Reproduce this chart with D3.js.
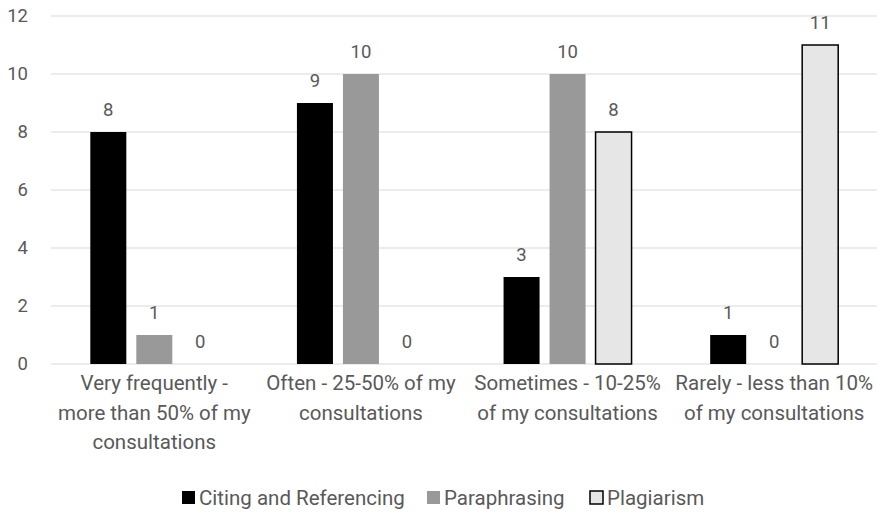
<!DOCTYPE html>
<html>
<head>
<meta charset="utf-8">
<script src="https://cdn.jsdelivr.net/npm/d3@7"></script>
<style>
  body { margin: 0; background: #fff; }
  text { font-family: "Roboto", sans-serif; fill: #595959; }
</style>
</head>
<body>
<div id="chart"></div>
<script>
var categories = [
    ["Very frequently -", "more than 50% of my", "consultations"],
    ["Often - 25-50% of my", "consultations"],
    ["Sometimes - 10-25%", "of my consultations"],
    ["Rarely - less than 10%", "of my consultations"]
];
var seriesNames = ["Citing and Referencing", "Paraphrasing", "Plagiarism"];
var citing = [8, 9, 3, 1];
var paraphrasing = [1, 10, 10, 0];
var plagiarism = [0, 0, 8, 11];
var yTicks = [0, 2, 4, 6, 8, 10, 12];

var fills = ["#000000", "#999999", "#e6e6e6"];
var strokes = ["none", "none", "#000000"];

var width = 877, height = 512;
var margin = { top: 16, left: 51, bottom: 148, right: 0 };

var svg = d3.select('#chart')
            .append('svg')
            .attr('width', width)
            .attr('height', height);

var x = d3.scaleBand()
          .domain(d3.range(categories.length))
          .range([margin.left, width - margin.right + 0.5]);

var y = d3.scaleLinear()
          .domain([0, 12])
          .range([height - margin.bottom, margin.top]);

// gridlines
svg.selectAll('.grid')
    .data(yTicks)
    .enter()
    .append('line')
    .attr('x1', margin.left)
    .attr('x2', width)
    .attr('y1', function(d){ return y(d); })
    .attr('y2', function(d){ return y(d); })
    .attr('stroke', '#d9d9d9')
    .attr('stroke-width', 1.2);

// y labels
svg.selectAll('.ylab')
    .data(yTicks)
    .enter()
    .append('text')
    .attr('x', 28)
    .attr('y', function(d){ return y(d); })
    .attr('dy', '0.35em')
    .style('text-anchor', 'end')
    .style('font-size', '18.5px')
    .text(function(d){ return d; });

var series = [citing, paraphrasing, plagiarism];
var barW = 36, gap = 10;
var groupW = barW * 3 + gap * 2;

series.forEach(function(vals, s){
    var g = svg.append('g');
    g.selectAll('rect')
        .data(vals)
        .enter()
        .append('rect')
        .attr('x', function(d, i){ return x(i) + x.bandwidth()/2 - groupW/2 + s*(barW+gap); })
        .attr('y', function(d){ return y(d); })
        .attr('width', barW)
        .attr('height', function(d){ return y(0) - y(d); })
        .attr('fill', fills[s])
        .attr('stroke', strokes[s])
        .attr('stroke-width', 1.5);

    g.selectAll('text')
        .data(vals)
        .enter()
        .append('text')
        .attr('x', function(d, i){ return x(i) + x.bandwidth()/2 - groupW/2 + s*(barW+gap) + barW/2; })
        .attr('y', function(d){ return y(d) - 16; })
        .style('text-anchor', 'middle')
        .style('font-size', '18.5px')
        .text(function(d){ return d; });
});

// category labels
categories.forEach(function(lines, i){
    var t = svg.append('text')
        .attr('x', x(i) + x.bandwidth()/2)
        .attr('y', 390)
        .style('text-anchor', 'middle')
        .style('font-size', '20.5px');
    lines.forEach(function(l, j){
        t.append('tspan')
         .attr('x', x(i) + x.bandwidth()/2)
         .attr('dy', j == 0 ? 0 : 29.5)
         .text(l);
    });
});

// legend
var legendX = [182, 427, 590];
seriesNames.forEach(function(name, s){
    svg.append('rect')
        .attr('x', legendX[s])
        .attr('y', 491)
        .attr('width', 13)
        .attr('height', 13)
        .attr('fill', fills[s])
        .attr('stroke', strokes[s])
        .attr('stroke-width', 1.5);
    svg.append('text')
        .attr('x', legendX[s] + 17)
        .attr('y', 505)
        .style('font-size', '20.5px')
        .text(name);
});
</script>
</body>
</html>
